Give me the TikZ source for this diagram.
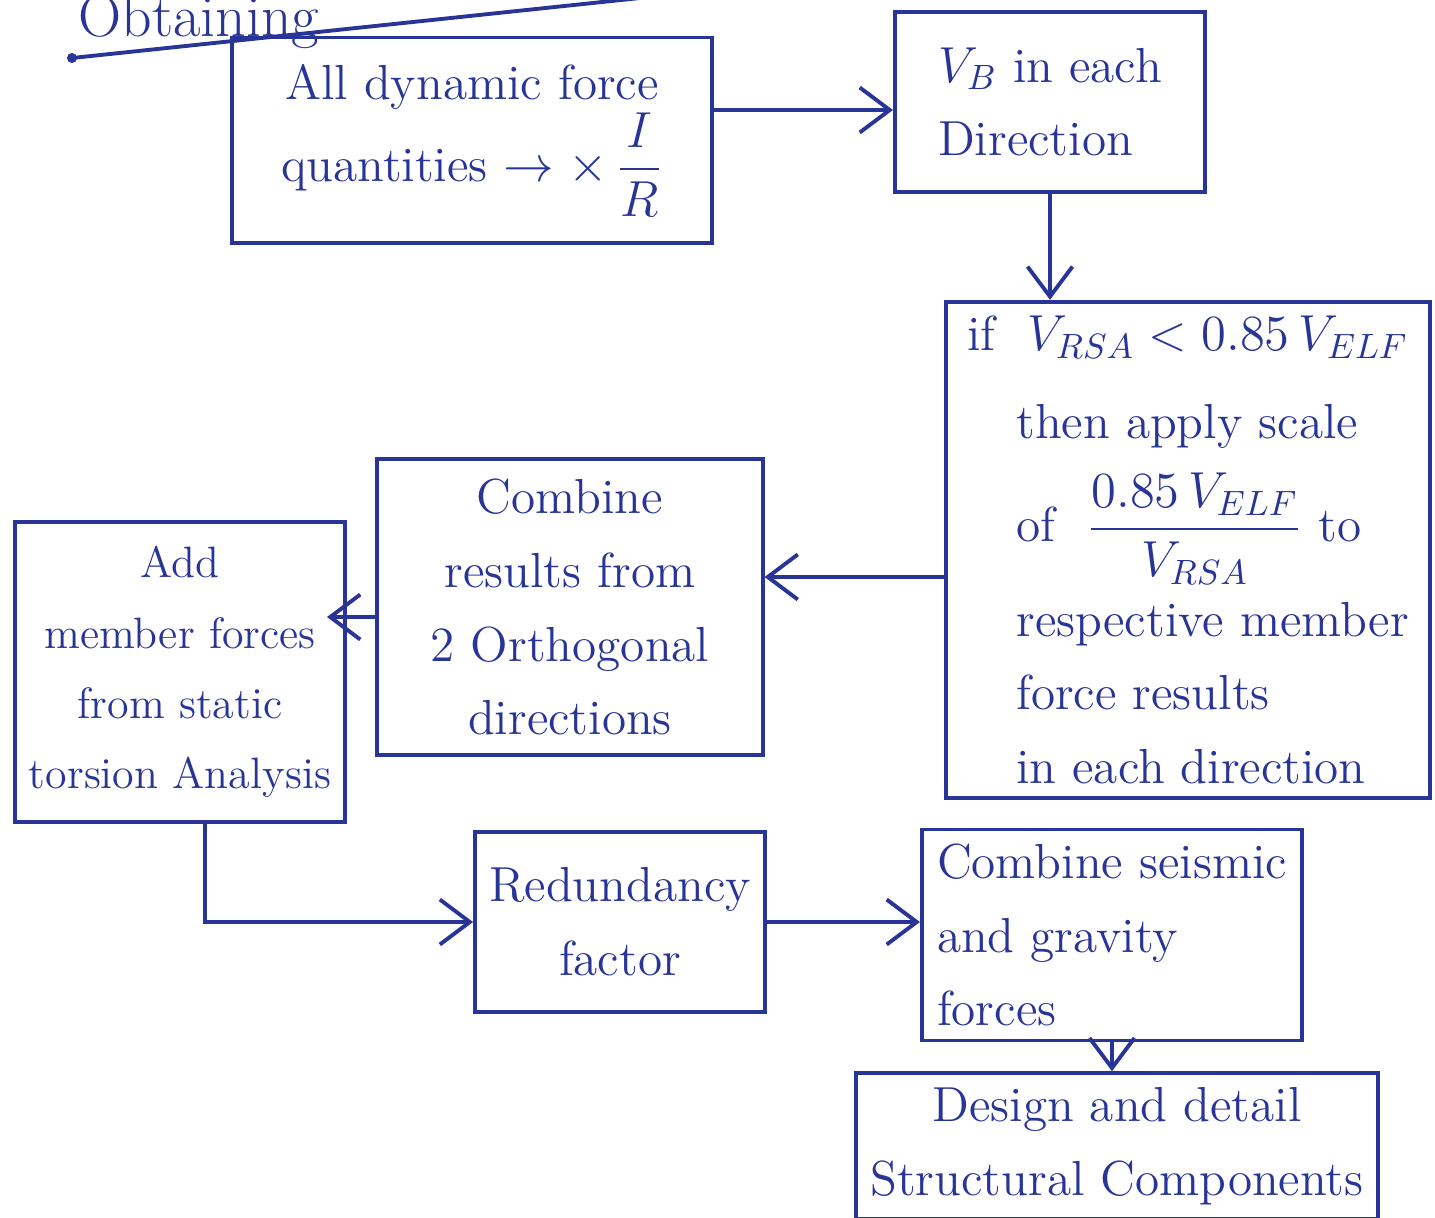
\documentclass[tikz,border=0pt]{standalone}
\usepackage{amsmath}
\usetikzlibrary{arrows.meta}
\definecolor{ink}{RGB}{40,52,150}
\newcommand{\flowtext}{\fontsize{14}{21}\selectfont}
\tikzset{
  flowbox/.style={draw=ink,line width=1.1pt,text=ink,minimum width=#1,align=center,inner sep=4pt},
  flowbox/.default=1cm,
  flowarrow/.style={draw=ink,line width=1.1pt,-{Straight Barb[length=3mm,width=4.5mm,line width=1.1pt]}}
}

\begin{document}
\begin{tikzpicture}[x=0.01cm,y=-0.01cm,font=\flowtext]

\useasboundingbox (0,0) rectangle (1435,1217);
\clip (0,0) rectangle (1435,1217);

% heading, cut at the top edge
\node[text=ink,font=\fontsize{17}{20}\selectfont,anchor=base west,inner sep=0pt] (title) at (78,36) {Obtaining};
\fill[ink] (72,58) circle (5);
\draw[ink,line width=1.1pt] (72,58) -- (640,-2);

% boxes
\node[flowbox=4.8cm,minimum height=2.05cm] (scaleR) at (472,140)
  {All dynamic force\\ quantities $\rightarrow \times\,\dfrac{I}{R}$};
\node[flowbox=3.1cm,minimum height=1.8cm,align=left] (vbase) at (1050,102)
  {$V_B$ in each\\ Direction};
\node[flowbox=4.84cm,minimum height=4.95cm,align=left] (rsa) at (1188,550)
  {if\ \ $V_{RSA} < 0.85\,V_{ELF}$\\[4pt]
   \quad then apply scale\\[6pt]
   \quad of\ \ $\dfrac{0.85\,V_{ELF}}{V_{RSA}}$\ to\\[4pt]
   \quad respective member\\
   \quad force results\\
   \quad in each direction};
\node[flowbox=3.85cm,minimum height=2.95cm] (combine) at (570,607)
  {Combine\\ results from\\ 2 Orthogonal\\ directions};
\node[flowbox=3.25cm,minimum height=3cm,font=\fontsize{12.5}{20}\selectfont] (torsion) at (180,672)
  {Add\\ member forces\\ from static\\ torsion Analysis};
\node[flowbox=2.75cm,minimum height=1.8cm] (redund) at (620,922)
  {Redundancy\\ factor};
\node[flowbox=3.8cm,minimum height=2cm,align=left] (gravity) at (1112,935)
  {Combine seismic\\ and gravity\\ forces};
\node[flowbox=5cm,minimum height=1.4cm] (design) at (1117,1146)
  {Design and detail\\ Structural Components};

% connectors
\draw[flowarrow] ([yshift=0.3cm]scaleR.east) -- ([yshift=0.3cm]scaleR.east -| vbase.west);
\draw[flowarrow] (vbase.south) -- (rsa.north -| vbase.south);
\draw[flowarrow] ([yshift=0.3cm]combine.east -| rsa.west) -- ([yshift=0.3cm]combine.east);
\draw[flowarrow] ([yshift=-0.1cm]combine.west) -- ([yshift=-0.1cm,xshift=-0.2cm]combine.west -| torsion.east);
\draw[flowarrow] ([xshift=0.25cm]torsion.south) |- (redund.west);
\draw[flowarrow] (redund.east) -- (redund.east -| gravity.west);
\draw[flowarrow] (gravity.south) -- (design.north -| gravity.south);

\end{tikzpicture}
\end{document}
